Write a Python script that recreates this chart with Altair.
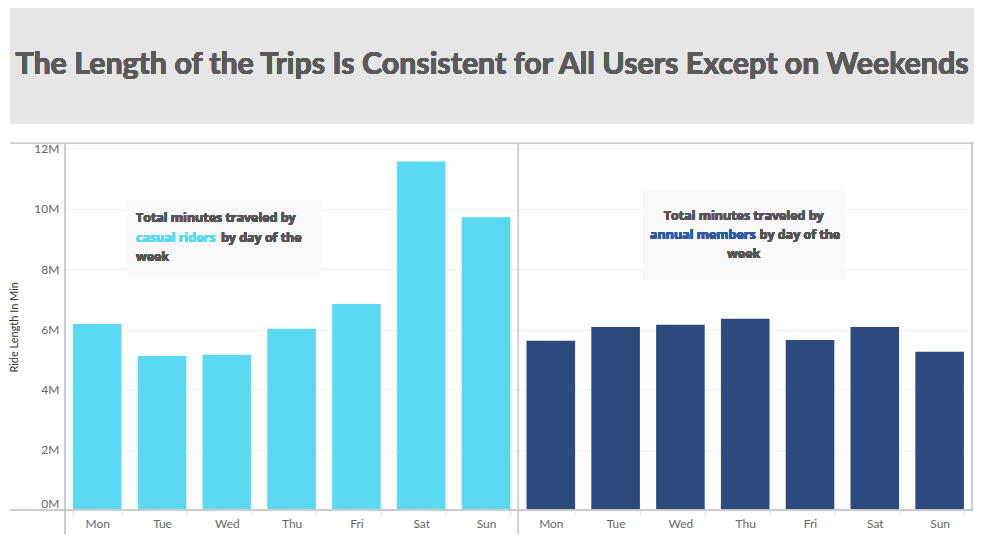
import altair as alt
import pandas as pd

days = ["Mon", "Tue", "Wed", "Thu", "Fri", "Sat", "Sun"]
casual_minutes = [6180000, 5120000, 5160000, 6020000, 6840000, 11570000, 9720000]
member_minutes = [5620000, 6080000, 6150000, 6350000, 5650000, 6080000, 5260000]
users = ["casual", "member"]
y_ticks = [0, 2000000, 4000000, 6000000, 8000000, 10000000, 12000000]

title_text = "The Length of the Trips Is Consistent for All Users Except on Weekends"

rows = []
for u, vals in zip(users, [casual_minutes, member_minutes]):
    for d, v in zip(days, vals):
        rows.append({"key": f"{u}|{d}", "user": u, "day": d, "minutes": v})
df = pd.DataFrame(rows)
keys = list(df["key"])

W = 910
H = 368
LEFT = 55
S = W / 918.0  # scale from reference pixel widths


def px(page_x):
    return (page_x - 63) * S


CYAN = "#5cd9f2"
NAVY = "#2c4a7e"
GRID = "#efefef"
BORDER = "#cccccc"
FONT = "Lato"
NOTE_FONT = "Open Sans"

base = alt.Chart(df)

bars = base.mark_bar().encode(
    x=alt.X(
        "key:N",
        sort=keys,
        scale=alt.Scale(paddingInner=0.25, paddingOuter=0.125),
        axis=alt.Axis(
            title=None,
            labelExpr="split(datum.label, '|')[1]",
            labelAngle=0,
            labelFontSize=12,
            labelColor="#666666",
            labelFont=FONT,
            domain=False,
            tickBand="extent",
            tickColor="#e4e4e4",
            tickSize=5,
            labelPadding=3,
        ),
    ),
    y=alt.Y(
        "minutes:Q",
        scale=alt.Scale(domain=[0, 12170000], nice=False, zero=True),
        axis=alt.Axis(
            title="Ride Length In Min",
            titleFontSize=11,
            titleFontWeight="normal",
            titleColor="#333333",
            titleFont=FONT,
            titlePadding=14,
            values=y_ticks,
            labelExpr="(datum.value / 1000000) + 'M'",
            labelFontSize=12,
            labelColor="#666666",
            labelFont=FONT,
            labelFlush=True,
            labelPadding=6,
            ticks=False,
            domain=False,
            grid=True,
            gridColor=GRID,
        ),
    ),
    color=alt.Color(
        "user:N",
        scale=alt.Scale(domain=users, range=[CYAN, NAVY]),
        legend=None,
    ),
)

header = alt.Chart(df).mark_rect(color="#e6e6e6").encode(
    x=alt.value(-LEFT), x2=alt.value(W + 2), y=alt.value(-135), y2=alt.value(-20)
)

title = alt.Chart(df).mark_text(
    text=title_text, font=FONT, fontSize=30.5, fontWeight="bold", color="#5a5a5a",
    align="center", baseline="middle",
).encode(x=alt.value((W + 2 - LEFT) / 2), y=alt.value(-79))

top_rule = alt.Chart(df).mark_rule(color=BORDER).encode(
    x=alt.value(-LEFT), x2=alt.value(W + 2), y=alt.value(0)
)
base_rule = alt.Chart(df).mark_rule(color=BORDER).encode(
    x=alt.value(-LEFT), x2=alt.value(W + 2), y=alt.value(H)
)
left_rule = alt.Chart(df).mark_rule(color=BORDER).encode(
    x=alt.value(0), y=alt.value(0), y2=alt.value(H + 24)
)
mid_rule = alt.Chart(df).mark_rule(color=BORDER).encode(
    x=alt.value(W / 2), y=alt.value(0), y2=alt.value(H + 24)
)
right_rule = alt.Chart(df).mark_rule(color=BORDER).encode(
    x=alt.value(W), y=alt.value(0), y2=alt.value(H)
)

box_c = alt.Chart(df).mark_rect(color="#f9f9f9").encode(
    x=alt.value(px(126)), x2=alt.value(px(322)), y=alt.value(57), y2=alt.value(133)
)
box_m = alt.Chart(df).mark_rect(color="#f9f9f9").encode(
    x=alt.value(px(648)), x2=alt.value(px(853)), y=alt.value(46), y2=alt.value(137)
)


def txt(text, x, y, color="#555555", align="left"):
    return alt.Chart(df).mark_text(
        text=text, font=NOTE_FONT, fontSize=12.5, fontWeight="bold", color=color,
        align=align, baseline="middle",
    ).encode(x=alt.value(x), y=alt.value(y))


texts = [
    txt("Total minutes traveled by", px(135), 75),
    txt("casual riders", px(135), 95, color=CYAN),
    txt("by day of the", px(221), 95),
    txt("week", px(135), 114),
    txt("Total minutes traveled by", px(750), 73, align="center"),
    txt("annual members", px(762), 92, color="#2f5aa0", align="right"),
    txt("by day of the", px(766), 92),
    txt("week", px(750), 111, align="center"),
]

chart = alt.layer(
    header, title, box_c, box_m, bars, top_rule, base_rule, left_rule, mid_rule, right_rule, *texts
).properties(
    width=W, height=H, padding=0, background="white"
).configure_view(stroke=None)

chart.save("out.html", embed_options={"renderer": "svg", "actions": False})
